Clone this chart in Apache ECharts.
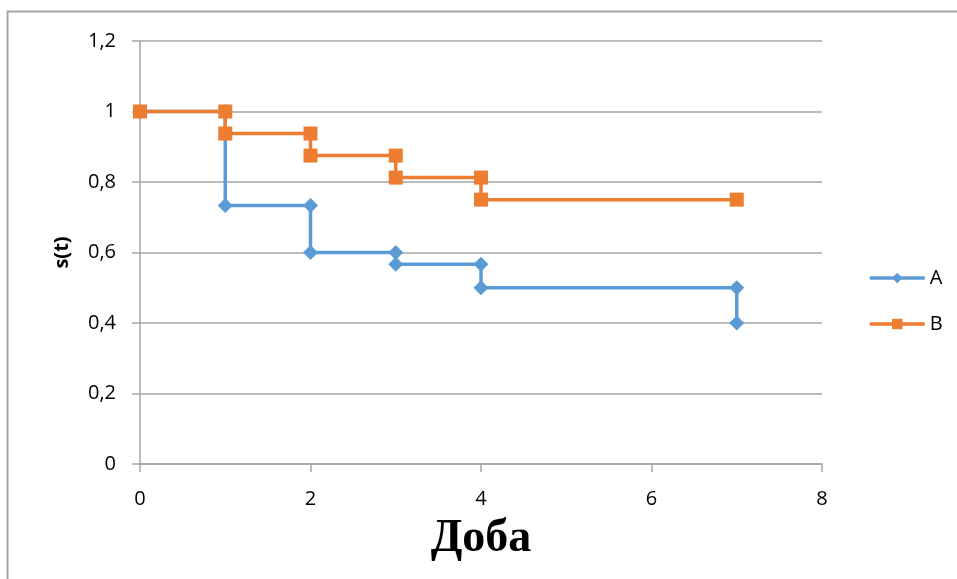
<!DOCTYPE html>
<html>
<head>
<meta charset="utf-8">
<script src="https://cdn.jsdelivr.net/npm/echarts@6/dist/echarts.min.js"></script>
<style>
html,body{margin:0;padding:0;background:#fff;}
#chart{width:957px;height:579px;}
</style>
</head>
<body>
<div id="chart"></div>
<script>
// Survival curve steps: days and s(t) for each group
const daysA = [0, 1, 1, 2, 2, 3, 3, 4, 4, 7, 7];
const survA = [1, 1, 0.7333, 0.7333, 0.6, 0.6, 0.5667, 0.5667, 0.5, 0.5, 0.4];
const daysB = [0, 1, 1, 2, 2, 3, 3, 4, 4, 7];
const survB = [1, 1, 0.9375, 0.9375, 0.875, 0.875, 0.8125, 0.8125, 0.75, 0.75];
const seriesNames = ['A', 'B'];
const xTitle = 'Доба';
const yTitle = 's(t)';

const pairs = (xs, ys) => xs.map((x, i) => [x, ys[i]]);
const labelFont = '"Open Sans", "DejaVu Sans", sans-serif';

const chart = echarts.init(document.getElementById('chart'));
chart.setOption({
  animation: false,
  backgroundColor: '#fff',
  graphic: [{
    type: 'rect',
    shape: { x: 7.5, y: 11.5, width: 1000, height: 700 },
    style: { fill: 'none', stroke: '#a6a6a6', lineWidth: 2 },
    silent: true
  }],
  grid: { left: 140, right: 135, top: 41, bottom: 115 },
  legend: {
    orient: 'vertical',
    left: 863,
    top: 263,
    itemWidth: 55,
    itemHeight: 13,
    itemGap: 26,
    lineStyle: { width: 3.5 },
    textStyle: { fontFamily: labelFont, fontSize: 20, color: '#000' },
    data: seriesNames
  },
  xAxis: {
    type: 'value',
    min: 0, max: 8, interval: 2,
    name: xTitle,
    nameLocation: 'middle',
    nameGap: 52,
    nameTextStyle: { fontFamily: '"Liberation Serif", serif', fontWeight: 'bold', fontSize: 46, color: '#000' },
    axisLine: { show: true, lineStyle: { color: '#a6a6a6', width: 1.5 } },
    axisTick: { show: true, length: 8, lineStyle: { color: '#a6a6a6', width: 1.5 } },
    axisLabel: { margin: 25, fontFamily: labelFont, fontSize: 20, color: '#000' },
    splitLine: { show: false }
  },
  yAxis: {
    type: 'value',
    min: 0, max: 1.2, interval: 0.2,
    name: yTitle,
    nameLocation: 'middle',
    nameGap: 68,
    nameRotate: 90,
    nameTextStyle: { fontFamily: labelFont, fontWeight: 'bold', fontSize: 20, color: '#000' },
    axisLine: { show: true, lineStyle: { color: '#a6a6a6', width: 1.5 } },
    axisTick: { show: true, length: 8, lineStyle: { color: '#a6a6a6', width: 1.5 } },
    axisLabel: {
      margin: 24, fontFamily: labelFont, fontSize: 20, color: '#000',
      formatter: v => String(Math.round(v * 10) / 10).replace('.', ',')
    },
    splitLine: { show: true, lineStyle: { color: '#a6a6a6', width: 1.5 } }
  },
  series: [
    {
      name: seriesNames[0],
      type: 'line',
      data: pairs(daysA, survA),
      symbol: 'diamond',
      symbolSize: 15,
      itemStyle: { color: '#5b9bd5' },
      lineStyle: { color: '#5b9bd5', width: 3.5 }
    },
    {
      name: seriesNames[1],
      type: 'line',
      data: pairs(daysB, survB),
      symbol: 'rect',
      symbolSize: 14,
      itemStyle: { color: '#ed7d31' },
      lineStyle: { color: '#ed7d31', width: 3.5 }
    }
  ]
});
</script>
</body>
</html>
